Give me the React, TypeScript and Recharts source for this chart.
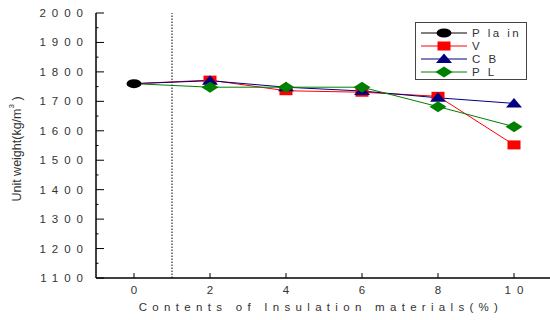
import React from 'react';
import { LineChart, Line, XAxis, YAxis, ReferenceLine } from 'recharts';

const contents = [0, 2, 4, 6, 8, 10];
const plain = [1760, null, null, null, null, null];
const vSeries = [1760, 1772, 1736, 1731, 1717, 1552];
const cbSeries = [1760, 1770, 1748, 1735, 1712, 1693];
const plSeries = [1760, 1748, 1748, 1748, 1682, 1614];

const xTicks = [0, 2, 4, 6, 8, 10];
const xTopTicks = [-1, 0, 1, 2, 3, 4, 5, 6, 7, 8, 9, 10, 11];
const yTicks = [1100, 1150, 1200, 1250, 1300, 1350, 1400, 1450, 1500, 1550, 1600, 1650, 1700, 1750, 1800, 1850, 1900, 1950, 2000];

const seriesNames = ['P la in', 'V', 'C B', 'P L'];
const seriesKeys = ['plain', 'v', 'cb', 'pl'];
const seriesColors = ['#000000', '#ff0000', '#000080', '#008000'];
const seriesShapes = ['ellipse', 'square', 'triangle', 'diamond'];

const data = contents.map((c, i) => ({
  x: c,
  plain: plain[i],
  v: vSeries[i],
  cb: cbSeries[i],
  pl: plSeries[i],
}));

const FONT = '"Liberation Sans", Arial, sans-serif';
const TXT = '#333';

function marker(shape: string, cx: number, cy: number, color: string, key?: any) {
  if (shape === 'ellipse') return <ellipse key={key} cx={cx} cy={cy} rx={7.5} ry={4.5} fill={color} />;
  if (shape === 'square') return <rect key={key} x={cx - 6.5} y={cy - 4.5} width={13} height={9} fill={color} />;
  if (shape === 'triangle')
    return <polygon key={key} points={`${cx},${cy - 5.5} ${cx + 8},${cy + 4} ${cx - 8},${cy + 4}`} fill={color} />;
  return <polygon key={key} points={`${cx},${cy - 5.5} ${cx + 8.5},${cy} ${cx},${cy + 5.5} ${cx - 8.5},${cy}`} fill={color} />;
}

const makeDot = (shape: string, color: string, skipFirst: boolean) => (props: any) => {
  const { cx, cy, index } = props;
  if (cx == null || cy == null || props.value == null || (skipFirst && index === 0)) return <g key={`d${index}`} />;
  return marker(shape, cx, cy, color, `d${index}`);
};

const YTick = (props: any) => {
  const { x, y, payload } = props;
  const v = payload.value;
  const major = v % 100 === 0;
  const label = String(v);
  return (
    <g>
      <line x1={x} x2={x + (major ? 8 : 2.5)} y1={y} y2={y} stroke="#000" strokeWidth={1} />
      {major && (
        <text x={x - 7} y={y} dy={4} textAnchor="end" fontSize={11.5} fill={TXT} fontFamily={FONT} letterSpacing={6}>
          {label}
        </text>
      )}
    </g>
  );
};

const XTick = (props: any) => {
  const { x, y, payload } = props;
  return (
    <g>
      <line x1={x} x2={x} y1={y} y2={y - 5} stroke="#000" strokeWidth={1} />
      <text x={x + 3} y={y + 16} textAnchor="middle" fontSize={11.5} fill={TXT} fontFamily={FONT} letterSpacing={6}>
        {String(payload.value)}
      </text>
    </g>
  );
};

const TopTick = (props: any) => {
  const { x, y } = props;
  return <line x1={x} x2={x} y1={y} y2={y + 2} stroke="#000" strokeWidth={1} />;
};

const XTitle = (props: any) => {
  const { viewBox } = props;
  return (
    <text
      x={viewBox.x + viewBox.width / 2 - 3}
      y={viewBox.y + 33}
      textAnchor="middle"
      fontSize={11.5}
      fill={TXT}
      fontFamily={FONT}
      letterSpacing={5.3}
    >
      Contents of Insulation materials(%)
    </text>
  );
};

const YTitle = () => {
  const cx = 21;
  const cy = 149;
  return (
    <text x={cx} y={cy} transform={`rotate(-90 ${cx} ${cy})`} textAnchor="middle" fontSize={12.5} fill={TXT} fontFamily={FONT}>
      Unit weight(kg/m
      <tspan fontSize={8} dy={-7}>3</tspan>
      <tspan dy={7}> )</tspan>
    </text>
  );
};

const LegendBox = () => (
  <div
    style={{
      position: 'absolute',
      left: 415,
      top: 22,
      width: 112,
      height: 58,
      border: '1px solid #444',
      boxSizing: 'border-box',
      background: '#fff',
    }}
  >
    <svg width={110} height={56} style={{ display: 'block' }}>
      {seriesNames.map((n, i) => {
        const y = 10 + i * 13;
        return (
          <g key={n}>
            <line x1={5} x2={51} y1={y} y2={y} stroke={seriesColors[i]} strokeWidth={1} />
            {marker(seriesShapes[i], 28, y, seriesColors[i])}
            <text x={56} y={y + 4} fontSize={11.5} fill={TXT} fontFamily={FONT} letterSpacing={2.5}>
              {n}
            </text>
          </g>
        );
      })}
    </svg>
  </div>
);

export default function App() {
  return (
    <div style={{ position: 'absolute', left: 0, top: 0, width: 550, height: 320, overflow: 'hidden', background: '#fff' }}>
      <LineChart width={553} height={320} data={data} margin={{ top: 13, right: 1, bottom: 0, left: 0 }}>
        <XAxis
          dataKey="x"
          type="number"
          domain={[-1, 11]}
          ticks={xTicks}
          interval={0}
          height={42}
          tickSize={0}
          tickMargin={0}
          tickLine={false}
          tick={<XTick />}
          axisLine={{ stroke: '#000', strokeWidth: 1.5 }}
          label={<XTitle />}
          allowDataOverflow
        />
        <XAxis
          xAxisId="top"
          orientation="top"
          type="number"
          domain={[-1, 11]}
          ticks={xTopTicks}
          interval={0}
          height={0}
          tickSize={0}
          tickMargin={0}
          tickLine={false}
          tick={<TopTick />}
          axisLine={{ stroke: '#000', strokeWidth: 1 }}
          allowDataOverflow
        />
        <YAxis
          type="number"
          domain={[1100, 2000]}
          ticks={yTicks}
          interval={0}
          width={96}
          tickSize={0}
          tickMargin={0}
          tickLine={false}
          tick={<YTick />}
          axisLine={{ stroke: '#000', strokeWidth: 1.5 }}
          allowDataOverflow
        />
        <ReferenceLine x={1} stroke="#000" strokeDasharray="1.5 1.5" strokeWidth={1} />
        {seriesKeys.map((k, i) => (
          <Line
            key={k}
            dataKey={k}
            stroke={seriesColors[i]}
            strokeWidth={1}
            dot={makeDot(seriesShapes[i], seriesColors[i], i !== 0)}
            activeDot={false}
            isAnimationActive={false}
            connectNulls
          />
        ))}
        <YTitle />
      </LineChart>
      <LegendBox />
    </div>
  );
}
